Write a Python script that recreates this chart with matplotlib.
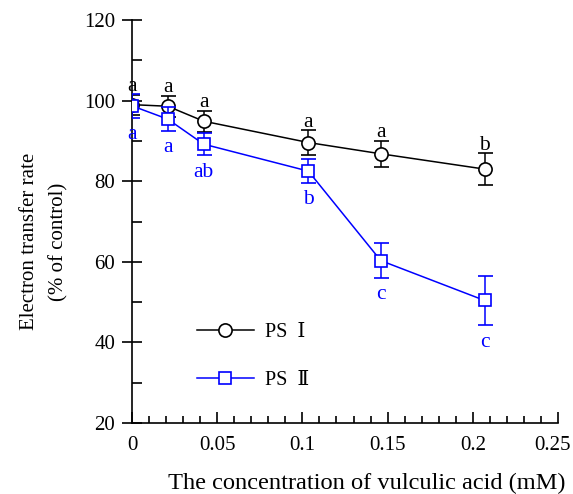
import numpy as np
import matplotlib.pyplot as plt
import matplotlib.transforms as mtransforms
from matplotlib.ticker import MultipleLocator
from matplotlib.lines import Line2D

# data
conc = [0.0, 0.021, 0.042, 0.1035, 0.146, 0.207]
ps1 = [99.0, 98.6, 94.9, 89.6, 86.8, 83.0]
ps1_err = [2.5, 2.6, 2.6, 3.0, 3.2, 4.0]
ps1_letters = ['a', 'a', 'a', 'a', 'a', 'b']
ps2 = [98.7, 95.4, 89.2, 82.5, 60.3, 50.4]
ps2_err = [3.0, 3.0, 2.8, 3.0, 4.3, 6.2]
ps2_letters = ['a', 'a', 'ab', 'b', 'c', 'c']

plt.rcParams['font.family'] = ['Liberation Serif', 'DejaVu Serif', 'Noto Sans CJK SC']
plt.rcParams['font.size'] = 15

blue = '#0000ff'
fig = plt.figure(figsize=(5.73, 4.94), dpi=100)
ax = fig.add_axes([0.2304, 0.1437, 0.7434, 0.8158])

ax.errorbar(conc, ps1, yerr=ps1_err, color='black', marker='o', ms=9.5,
            mfc='white', mew=1.2, lw=1.1, elinewidth=1.1, capsize=5.4,
            capthick=1.1, zorder=3)
ax.errorbar(conc, ps2, yerr=ps2_err, color=blue, marker='s', ms=9,
            mfc='white', mew=1.2, lw=1.1, elinewidth=1.1, capsize=5.4,
            capthick=1.1, zorder=4)

for x, y, e, t in zip(conc, ps1, ps1_err, ps1_letters):
    ax.annotate(t, (x, y + e), xytext=(0, 2.5), textcoords='offset points',
                ha='center', va='baseline', color='black', fontsize=15.5)
for x, y, e, t in zip(conc, ps2, ps2_err, ps2_letters):
    ax.annotate(t, (x, y - e), xytext=(0, -12), textcoords='offset points',
                ha='center', va='center', color=blue, fontsize=15.5)

ax.set_xlim(0, 0.25)
ax.set_ylim(20, 120)
ax.xaxis.set_minor_locator(MultipleLocator(0.01))
ax.yaxis.set_major_locator(MultipleLocator(20))
ax.yaxis.set_minor_locator(MultipleLocator(10))
ax.set_xticks([0, 0.05, 0.1, 0.15, 0.2, 0.25])
ax.set_xticklabels(['0', '0.05', '0.1', '0.15', '0.2', '0.25'])

ax.spines['top'].set_visible(False)
ax.spines['right'].set_visible(False)
for s in ['left', 'bottom']:
    ax.spines[s].set_linewidth(1.2)

ax.tick_params(axis='y', which='major', direction='inout', length=14.4, width=1.2, pad=5)
ax.tick_params(axis='y', which='minor', direction='in', length=7, width=1.2)
ax.tick_params(axis='x', which='major', direction='in', length=8, width=1.2, pad=9)
ax.tick_params(axis='x', which='minor', direction='in', length=5, width=1.2)

# last x label sits a little left of its tick in the original
last = ax.get_xticklabels()[-1]
last.set_transform(last.get_transform() +
                   mtransforms.ScaledTranslation(-5 / 100, 0, fig.dpi_scale_trans))

ax.set_xlabel('The concentration of vulculic acid (mM)', fontsize=17.6)
ax.xaxis.set_label_coords(0.551, -0.123)
ax.set_ylabel('Electron transfer rate\n(% of control)', fontsize=15, linespacing=1.75)
ax.yaxis.set_label_coords(-0.148, 0.45)

handles = [Line2D([], [], color='black', marker='o', ms=9.5, mfc='white', mew=1.2, lw=1.1),
           Line2D([], [], color=blue, marker='s', ms=9, mfc='white', mew=1.2, lw=1.1)]
ax.legend(handles, ['PS  Ⅰ', 'PS  Ⅱ'], loc='center left', bbox_to_anchor=(0.153, 0.165),
          frameon=False, borderpad=0, borderaxespad=0, handlelength=2.8,
          handletextpad=0.55, labelspacing=1.45, fontsize=14.5)

fig.savefig('out.png', dpi=100)
